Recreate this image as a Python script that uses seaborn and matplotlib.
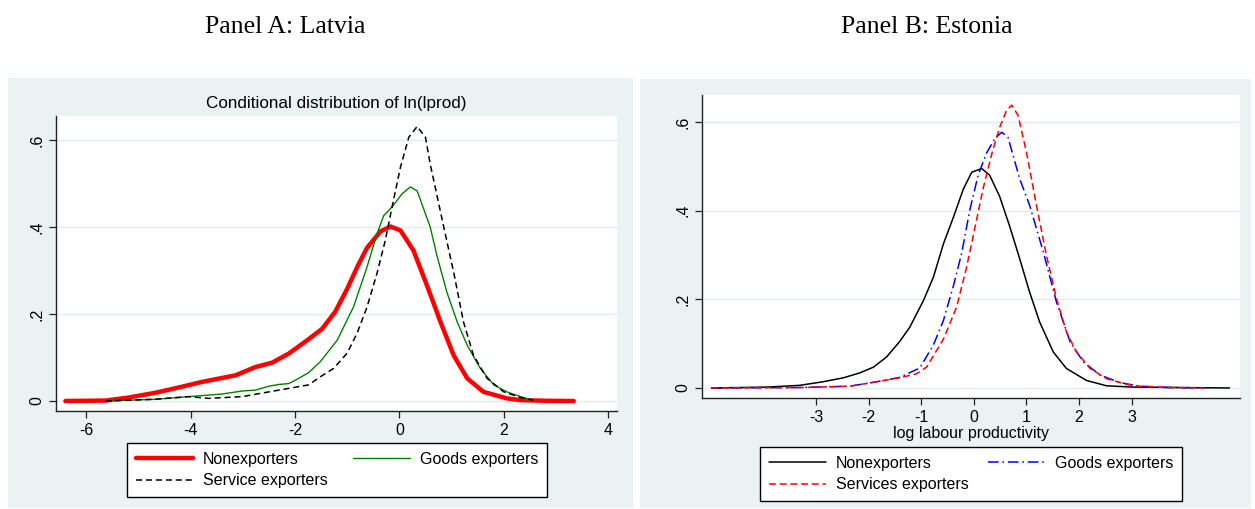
import matplotlib
matplotlib.use("Agg")
import matplotlib.pyplot as plt
import seaborn as sns
import pandas as pd
from matplotlib.patches import Rectangle

# ---------------- data: Panel A (Latvia) ----------------
lv_non_x = [-6.40, -5.63, -5.19, -4.67, -4.16, -3.78, -3.14, -2.76, -2.44, -2.12, -1.90, -1.74, -1.48,
            -1.23, -1.00, -0.80, -0.62, -0.36, -0.17, 0.02, 0.27, 0.53, 0.79, 1.04, 1.30, 1.61, 2.06,
            2.32, 2.80, 3.34]
lv_non_y = [0.0, 0.001, 0.008, 0.019, 0.033, 0.044, 0.059, 0.078, 0.088, 0.109, 0.128, 0.142, 0.166,
            0.205, 0.258, 0.310, 0.352, 0.390, 0.401, 0.392, 0.346, 0.265, 0.181, 0.105, 0.052, 0.021,
            0.006, 0.002, 0.0005, 0.0]

lv_goods_x = [-5.63, -4.67, -4.04, -3.40, -3.01, -2.76, -2.50, -2.31, -2.12, -1.99, -1.74, -1.51, -1.19,
              -0.88, -0.62, -0.43, -0.30, -0.14, 0.05, 0.21, 0.34, 0.59, 0.72, 0.91, 1.11, 1.30, 1.55,
              1.81, 2.06, 2.32, 2.56]
lv_goods_y = [0.0, 0.004, 0.010, 0.016, 0.023, 0.025, 0.034, 0.038, 0.040, 0.048, 0.065, 0.091, 0.140,
              0.216, 0.308, 0.384, 0.426, 0.446, 0.476, 0.492, 0.483, 0.400, 0.334, 0.250, 0.181, 0.128,
              0.075, 0.037, 0.021, 0.010, 0.002]

lv_serv_x = [-5.63, -4.67, -4.04, -3.65, -3.01, -2.50, -2.12, -1.74, -1.51, -1.26, -1.00, -0.81, -0.62,
             -0.43, -0.27, -0.14, 0.02, 0.18, 0.34, 0.50, 0.59, 0.85, 1.04, 1.23, 1.42, 1.68, 2.00,
             2.32, 2.56]
lv_serv_y = [0.0, 0.004, 0.010, 0.006, 0.010, 0.021, 0.029, 0.037, 0.056, 0.075, 0.110, 0.156, 0.216,
             0.293, 0.369, 0.446, 0.537, 0.606, 0.631, 0.606, 0.545, 0.400, 0.296, 0.181, 0.105, 0.052,
             0.021, 0.008, 0.002]

# ---------------- data: Panel B (Estonia) ----------------
ee_non_x = [-4.99, -3.94, -3.31, -2.87, -2.48, -2.17, -1.91, -1.66, -1.41, -1.22, -0.96, -0.77, -0.58,
            -0.39, -0.20, -0.04, 0.15, 0.30, 0.49, 0.68, 0.87, 1.06, 1.25, 1.51, 1.76, 2.14, 2.52,
            3.03, 4.86]
ee_non_y = [0.0, 0.002, 0.006, 0.014, 0.023, 0.034, 0.047, 0.070, 0.105, 0.137, 0.197, 0.250, 0.325,
            0.385, 0.449, 0.487, 0.495, 0.480, 0.432, 0.365, 0.292, 0.216, 0.149, 0.081, 0.044, 0.017,
            0.005, 0.002, 0.0]

ee_goods_x = [-4.99, -3.31, -2.36, -1.85, -1.41, -1.03, -0.77, -0.58, -0.39, -0.23, -0.08, 0.08, 0.24,
              0.40, 0.53, 0.65, 0.87, 1.06, 1.32, 1.57, 1.83, 2.08, 2.40, 2.78, 3.16, 3.70, 4.38]
ee_goods_y = [0.0, 0.001, 0.004, 0.014, 0.024, 0.045, 0.097, 0.152, 0.230, 0.305, 0.400, 0.480, 0.530,
              0.563, 0.577, 0.565, 0.472, 0.412, 0.307, 0.194, 0.104, 0.059, 0.029, 0.012, 0.004,
              0.001, 0.0]

ee_serv_x = [-4.99, -3.31, -2.36, -1.85, -1.41, -1.09, -0.90, -0.58, -0.33, -0.14, 0.02, 0.18, 0.34,
             0.49, 0.62, 0.72, 0.84, 1.00, 1.19, 1.38, 1.57, 1.76, 1.95, 2.21, 2.52, 2.90, 3.16, 3.70,
             4.38]
ee_serv_y = [0.0, 0.001, 0.004, 0.014, 0.023, 0.032, 0.047, 0.110, 0.182, 0.272, 0.362, 0.452, 0.528,
             0.588, 0.626, 0.638, 0.615, 0.532, 0.412, 0.299, 0.202, 0.126, 0.081, 0.044, 0.021, 0.008,
             0.004, 0.001, 0.0]

panel_titles = ["Panel A: Latvia", "Panel B: Estonia"]
lv_title = "Conditional distribution of ln(lprod)"
ee_xlabel = "log labour productivity"
lv_labels = ["Nonexporters", "Goods exporters", "Service exporters"]
ee_labels = ["Nonexporters", "Goods exporters", "Services exporters"]
y_ticks = [0, 0.2, 0.4, 0.6]
y_ticklabels = ["0", ".2", ".4", ".6"]
lv_xticks = [-6, -4, -2, 0, 2, 4]
ee_xticks = [-3, -2, -1, 0, 1, 2, 3]

# ---------------- styling ----------------
sns.set_theme(style="white")
plt.rcParams["font.family"] = ["Liberation Sans", "DejaVu Sans"]
plt.rcParams["text.color"] = "black"
plt.rcParams["axes.labelcolor"] = "black"
plt.rcParams["xtick.color"] = "black"
plt.rcParams["ytick.color"] = "black"
plt.rcParams["lines.solid_capstyle"] = "round"
plt.rcParams["lines.solid_joinstyle"] = "round"

W, H = 1255, 509
fig = plt.figure(figsize=(W / 100, H / 100), dpi=100)
BG = "#EAF2F3"

def fx(px):
    return px / W

def fy(py):
    return 1 - py / H

# panel backgrounds (behind everything)
bgA = Rectangle((fx(8), fy(508)), fx(625), 430 / H, transform=fig.transFigure,
                facecolor=BG, edgecolor="none", zorder=-10)
bgB = Rectangle((fx(640), fy(508)), fx(611), 429 / H, transform=fig.transFigure,
                facecolor=BG, edgecolor="none", zorder=-10)
fig.patches.extend([bgA, bgB])

# panel titles
serif = ["Liberation Serif", "DejaVu Serif"]
fig.text(fx(285), fy(27), panel_titles[0], ha="center", va="center", family=serif, fontsize=18.5)
fig.text(fx(927), fy(27), panel_titles[1], ha="center", va="center", family=serif, fontsize=18.5)

axA = fig.add_axes([fx(56), fy(411), fx(617 - 56), (411 - 116) / H])
axB = fig.add_axes([fx(702), fy(398), fx(1240 - 702), (398 - 95) / H])
for ax in (axA, axB):
    ax.set_zorder(5)

FS = 11.5

def style_axes(ax):
    ax.set_facecolor("white")
    for s in ["top", "right"]:
        ax.spines[s].set_visible(False)
    for s in ["left", "bottom"]:
        ax.spines[s].set_color("#222222")
        ax.spines[s].set_linewidth(1.0)
    ax.tick_params(axis="both", direction="out", length=5, width=0.9, color="#222222",
                   labelsize=FS, labelcolor="black", bottom=True, left=True)
    ax.set_yticks(y_ticks)
    ax.set_yticklabels(y_ticklabels, rotation=90, va="center")
    for y in y_ticks:
        ax.axhline(y, color="#E3ECEE", lw=1.0, zorder=0)
    ax.set_xlabel("")
    ax.set_ylabel("")

# Panel A
dfA = [pd.DataFrame({"x": lv_non_x, "y": lv_non_y}),
       pd.DataFrame({"x": lv_goods_x, "y": lv_goods_y}),
       pd.DataFrame({"x": lv_serv_x, "y": lv_serv_y})]
sns.lineplot(data=dfA[0], x="x", y="y", ax=axA, color="#FF0000", linewidth=3.2, estimator=None, label=lv_labels[0])
sns.lineplot(data=dfA[1], x="x", y="y", ax=axA, color="#008000", linewidth=1.0, estimator=None, label=lv_labels[1])
sns.lineplot(data=dfA[2], x="x", y="y", ax=axA, color="black", linewidth=1.1, estimator=None, label=lv_labels[2])
axA.lines[-1].set_dashes((4, 2.5))
axA.set_xlim(-6.58, 4.17)
axA.set_ylim(-0.023, 0.655)
style_axes(axA)
axA.set_xticks(lv_xticks)
axA.set_xticklabels([str(t) for t in lv_xticks])
axA.set_title(lv_title, fontsize=12.3, pad=6)

# Panel B
dfB = [pd.DataFrame({"x": ee_non_x, "y": ee_non_y}),
       pd.DataFrame({"x": ee_goods_x, "y": ee_goods_y}),
       pd.DataFrame({"x": ee_serv_x, "y": ee_serv_y})]
sns.lineplot(data=dfB[0], x="x", y="y", ax=axB, color="black", linewidth=1.1, estimator=None, label=ee_labels[0])
sns.lineplot(data=dfB[1], x="x", y="y", ax=axB, color="#0000FF", linewidth=1.1, estimator=None, label=ee_labels[1])
axB.lines[-1].set_dashes((7, 2.5, 1, 2.5))
sns.lineplot(data=dfB[2], x="x", y="y", ax=axB, color="#FF0000", linewidth=1.1, estimator=None, label=ee_labels[2])
axB.lines[-1].set_dashes((4.5, 2.5))
axB.set_xlim(-5.17, 5.06)
axB.set_ylim(-0.0226, 0.661)
style_axes(axB)
axB.set_xticks(ee_xticks)
axB.set_xticklabels([str(t) for t in ee_xticks])
axB.set_xlabel(ee_xlabel, fontsize=FS, labelpad=1)

def make_legend(ax, bbox):
    h, l = ax.get_legend_handles_labels()
    ax.get_legend().remove()
    order = [0, 2, 1]
    leg = fig.legend([h[i] for i in order], [l[i] for i in order], loc="upper left",
                     bbox_to_anchor=bbox, bbox_transform=fig.transFigure, mode="expand",
                     ncol=2, frameon=True, fancybox=False, edgecolor="black", facecolor="white",
                     framealpha=1, fontsize=FS, handlelength=3.6, handletextpad=0.6,
                     borderpad=0.55, labelspacing=0.42, columnspacing=2.0, borderaxespad=0)
    leg.get_frame().set_linewidth(1.0)
    leg.set_zorder(6)
    return leg

make_legend(axA, (fx(127), fy(493), fx(420), 50 / H))
make_legend(axB, (fx(760), fy(497), fx(422), 50 / H))

fig.savefig("out.png", dpi=100)
